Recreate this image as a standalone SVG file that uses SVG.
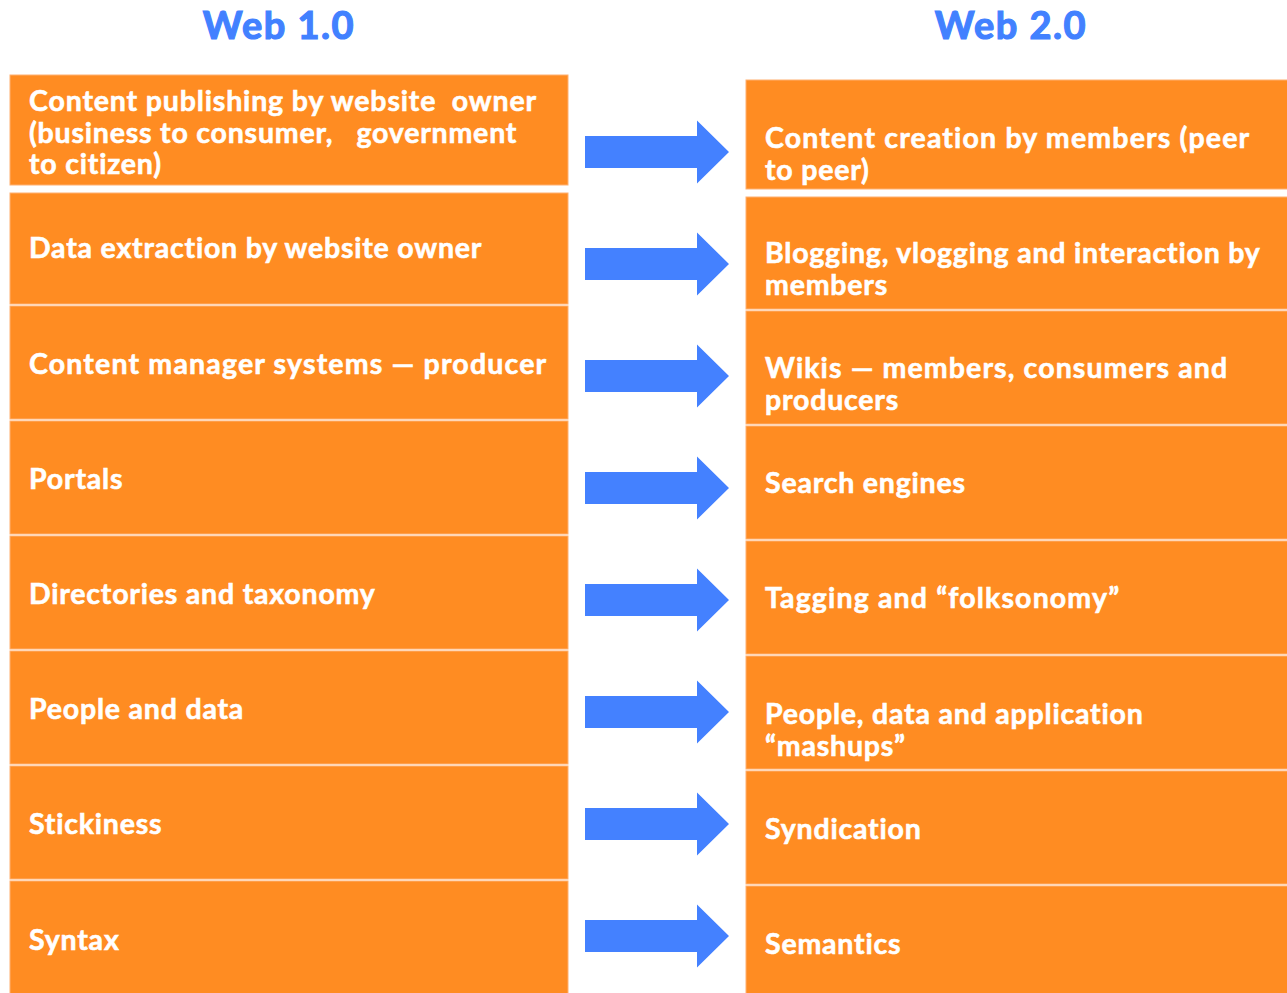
<svg xmlns="http://www.w3.org/2000/svg" width="1287" height="993" viewBox="0 0 1287 993">
<style>
.box{fill:#FF8C22;stroke:#FFB070;stroke-width:1}
.t{font-family:Lato,"Open Sans","DejaVu Sans",sans-serif;font-weight:bold;font-size:28.5px;letter-spacing:0.8px;fill:#FFFFFF;stroke:#FFFFFF;stroke-width:0.6px}
.h{font-family:Lato,"Open Sans","DejaVu Sans",sans-serif;font-weight:bold;font-size:38px;letter-spacing:1.5px;fill:#4281FF;stroke:#4281FF;stroke-width:1.2px}
.arr{fill:#4481FF}
</style>
<defs>
<path id="arrow" d="M0,-16 L112,-16 L112,-31.5 L144,0 L112,31.5 L112,16 L0,16 Z"/>
</defs>
<rect width="1287" height="993" fill="#FFFFFF"/>
<g id="headers">
<text class="h" x="279" y="39" text-anchor="middle">Web 1.0</text>
<text class="h" x="1011" y="39" text-anchor="middle">Web 2.0</text>
</g>
<g id="web1">
<g id="l1"><rect class="box" x="10" y="75" width="558" height="110"/>
<text class="t" x="29" y="111" xml:space="preserve" textLength="508">Content publishing by website  owner</text>
<text class="t" x="29" y="143" xml:space="preserve">(business to consumer,   government</text>
<text class="t" x="29" y="174">to citizen)</text></g>
<g id="l2"><rect class="box" x="10" y="193" width="558" height="111"/>
<text class="t" x="29" y="258">Data extraction by website owner</text></g>
<g id="l3"><rect class="box" x="10" y="306" width="558" height="113"/>
<text class="t" x="29" y="374" textLength="518">Content manager systems — producer</text></g>
<g id="l4"><rect class="box" x="10" y="421" width="558" height="113"/>
<text class="t" x="29" y="489">Portals</text></g>
<g id="l5"><rect class="box" x="10" y="536" width="558" height="113"/>
<text class="t" x="29" y="604">Directories and taxonomy</text></g>
<g id="l6"><rect class="box" x="10" y="651" width="558" height="113"/>
<text class="t" x="29" y="719">People and data</text></g>
<g id="l7"><rect class="box" x="10" y="766" width="558" height="113"/>
<text class="t" x="29" y="834">Stickiness</text></g>
<g id="l8"><rect class="box" x="10" y="881" width="558" height="114"/>
<text class="t" x="29" y="950">Syntax</text></g>
</g>
<g id="web2">
<g id="r1"><rect class="box" x="746" y="80" width="543" height="109"/>
<text class="t" x="765" y="148" textLength="485">Content creation by members (peer</text>
<text class="t" x="765" y="180">to peer)</text></g>
<g id="r2"><rect class="box" x="746" y="197" width="543" height="112"/>
<text class="t" x="765" y="263">Blogging, vlogging and interaction by</text>
<text class="t" x="765" y="295">members</text></g>
<g id="r3"><rect class="box" x="746" y="311" width="543" height="113"/>
<text class="t" x="765" y="378" textLength="463">Wikis — members, consumers and</text>
<text class="t" x="765" y="410">producers</text></g>
<g id="r4"><rect class="box" x="746" y="426" width="543" height="113"/>
<text class="t" x="765" y="493">Search engines</text></g>
<g id="r5"><rect class="box" x="746" y="541" width="543" height="113"/>
<text class="t" x="765" y="608" textLength="355">Tagging and “folksonomy”</text></g>
<g id="r6"><rect class="box" x="746" y="656" width="543" height="113"/>
<text class="t" x="765" y="724">People, data and application</text>
<text class="t" x="765" y="756">“mashups”</text></g>
<g id="r7"><rect class="box" x="746" y="771" width="543" height="113"/>
<text class="t" x="765" y="839">Syndication</text></g>
<g id="r8"><rect class="box" x="746" y="886" width="543" height="109"/>
<text class="t" x="765" y="954">Semantics</text></g>
</g>
<g id="connectors">
<use href="#arrow" class="arr" x="585" y="152"/>
<use href="#arrow" class="arr" x="585" y="264"/>
<use href="#arrow" class="arr" x="585" y="376"/>
<use href="#arrow" class="arr" x="585" y="488"/>
<use href="#arrow" class="arr" x="585" y="600"/>
<use href="#arrow" class="arr" x="585" y="712"/>
<use href="#arrow" class="arr" x="585" y="824"/>
<use href="#arrow" class="arr" x="585" y="936"/>
</g>
</svg>
